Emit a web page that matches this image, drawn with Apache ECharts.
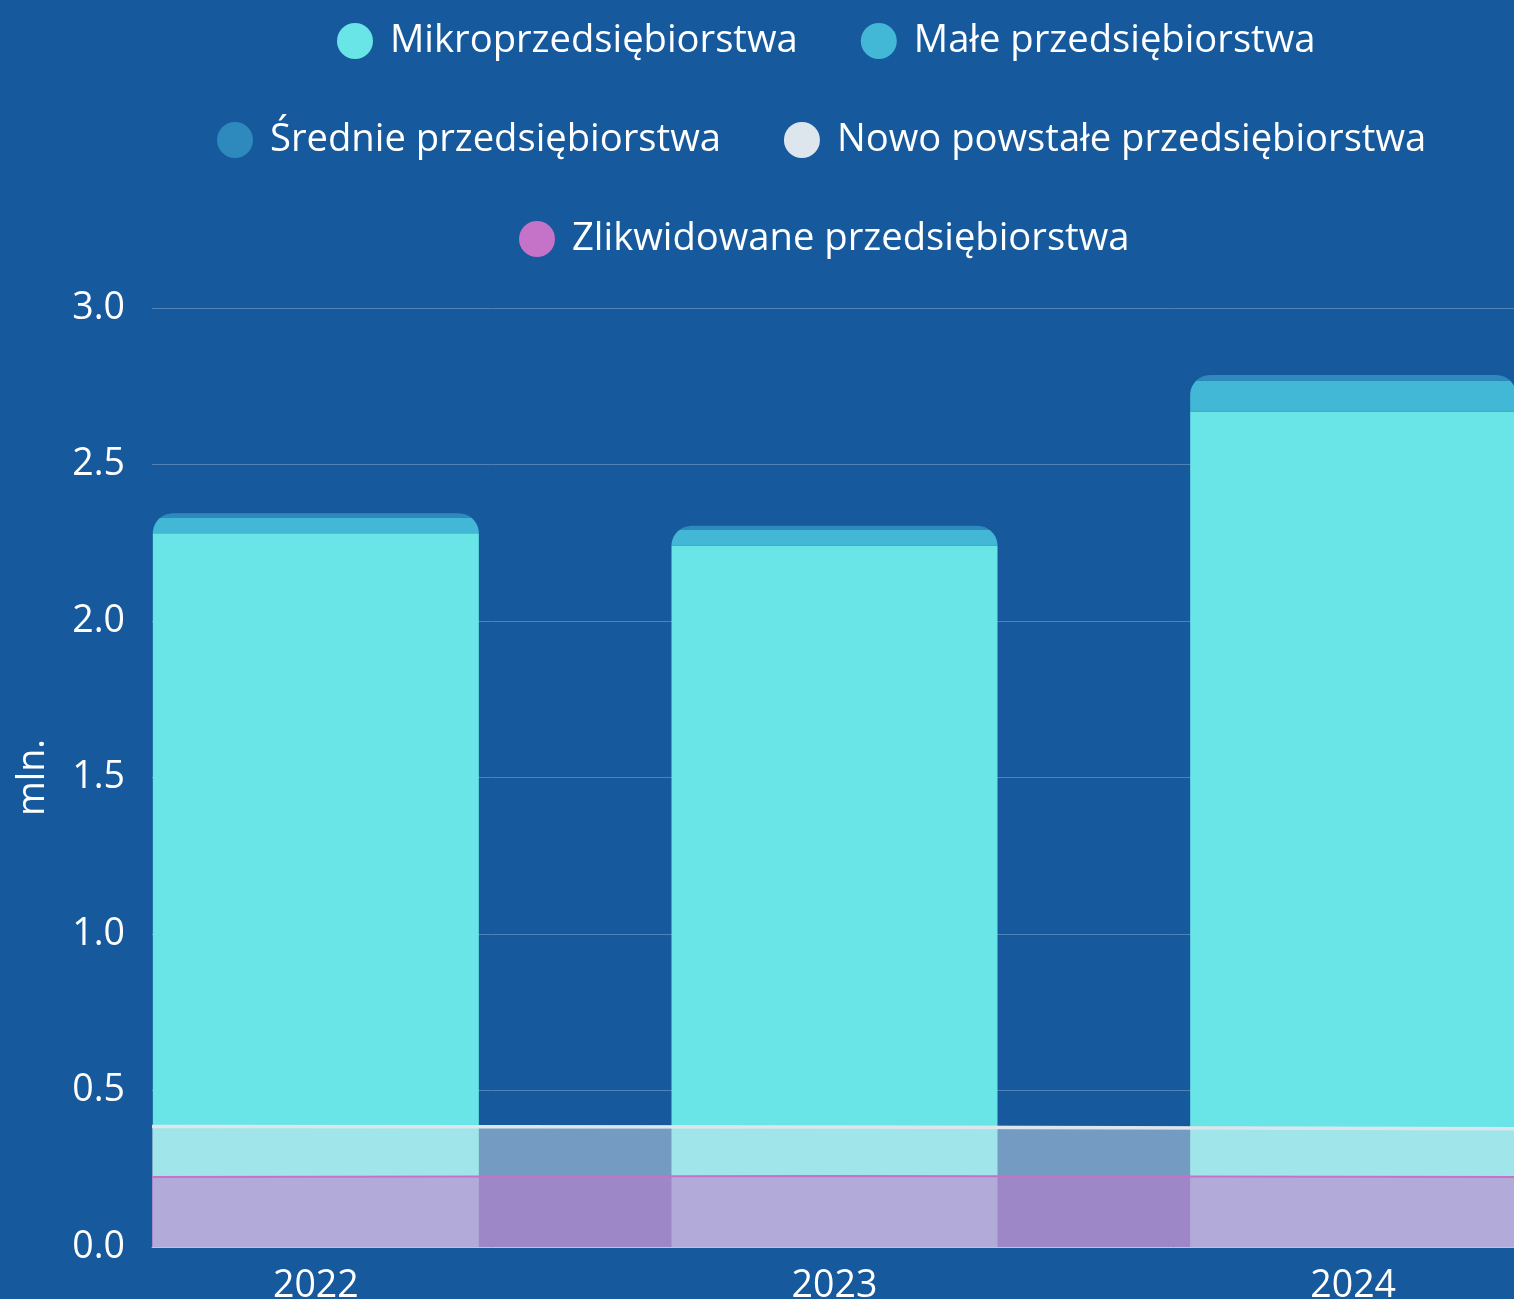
<!DOCTYPE html>
<html>
<head>
<meta charset="utf-8">
<script src="https://cdn.jsdelivr.net/npm/echarts@6/dist/echarts.min.js"></script>
<style>
html,body{margin:0;padding:0;background:#16599c;}
#chart{width:1514px;height:1299px;}
</style>
</head>
<body>
<div id="chart"></div>
<script>
// ---- data ----
const categories = ['2022', '2023', '2024'];
const mikro = [2.280, 2.241, 2.669];
const male = [0.049, 0.050, 0.099];
const srednie = [0.015, 0.013, 0.018];
const nowe = [0.385, 0.383, 0.378];
const zlikwidowane = [0.224, 0.227, 0.224];
const yTicks = [0, 0.5, 1.0, 1.5, 2.0, 2.5, 3.0];

const names = ['Mikroprzedsiębiorstwa', 'Małe przedsiębiorstwa', 'Średnie przedsiębiorstwa',
  'Nowo powstałe przedsiębiorstwa', 'Zlikwidowane przedsiębiorstwa'];
const colors = ['#69e5e7', '#42b7d6', '#2e89bd', '#dce6ec', '#c572c9'];

const FONT = 'Open Sans';
const FS = 37.5;
const LFS = 38.2;
const BAR_W = 326;
const RADIUS = 20;

const stacks = [mikro, male, srednie];
const totals = categories.map((c, i) => mikro[i] + male[i] + srednie[i]);

function stackData(k) {
  return categories.map((c, i) => {
    let lo = 0;
    for (let j = 0; j < k; j++) lo += stacks[j][i];
    return [i, lo, lo + stacks[k][i], totals[i]];
  });
}

function renderSeg(params, api) {
  const i = api.value(0);
  const pLo = api.coord([i, api.value(1)]);
  const pHi = api.coord([i, api.value(2)]);
  const pT = api.coord([i, api.value(3)]);
  const xc = pLo[0], yLo = pLo[1], yHi = pHi[1], yT = pT[1];
  const r = RADIUS;
  const inset = (y) => {
    if (y >= yT + r) return 0;
    const d = yT + r - y;
    return r - Math.sqrt(Math.max(0, r * r - d * d));
  };
  const ys = [yHi];
  const a = Math.max(yHi, yT), b = Math.min(yLo, yT + r);
  if (b > a) {
    const n = 14;
    for (let s = 0; s <= n; s++) ys.push(a + (b - a) * s / n);
  }
  ys.push(yLo);
  ys.sort((p, q) => p - q);
  const pts = [];
  ys.forEach(y => pts.push([xc - BAR_W / 2 + inset(y), y]));
  ys.slice().reverse().forEach(y => pts.push([xc + BAR_W / 2 - inset(y), y]));
  return {
    type: 'polygon',
    shape: { points: pts },
    style: { fill: colors[params.seriesIndex] }
  };
}

const chart = echarts.init(document.getElementById('chart'), null, { renderer: 'canvas' });

const legendCommon = {
  icon: 'circle',
  itemWidth: 60,
  itemHeight: 36,
  itemGap: 63,
  padding: 0,
  textStyle: { color: '#ffffff', fontSize: LFS, fontFamily: FONT },
  selectedMode: false
};

const option = {
  backgroundColor: '#16599c',
  animation: false,
  legend: [
    Object.assign({ left: 337, top: 22, data: [names[0], names[1]] }, legendCommon),
    Object.assign({ left: 217, top: 121, data: [names[2], names[3]] }, legendCommon),
    Object.assign({ left: 519, top: 220, data: [names[4]] }, legendCommon)
  ],
  grid: [
    { left: 152, right: 0, top: 308, bottom: 52, containLabel: false, outerBoundsMode: 'none' },
    { left: 56.5, right: -98.5, top: 308, bottom: 52, containLabel: false, outerBoundsMode: 'none' }
  ],
  xAxis: [
    {
      type: 'category', gridIndex: 0, data: categories, boundaryGap: false,
      axisLine: { show: true, lineStyle: { color: '#86dcec', width: 1 } },
      axisTick: { show: false }, axisLabel: { show: false }, splitLine: { show: false }
    },
    {
      type: 'category', gridIndex: 1, data: categories, boundaryGap: true,
      axisLine: { show: false }, axisTick: { show: false },
      axisLabel: { color: '#ffffff', fontSize: FS, fontFamily: FONT, margin: 20 },
      splitLine: { show: false }
    }
  ],
  yAxis: [
    {
      type: 'value', gridIndex: 0, min: 0, max: 3, interval: 0.5,
      name: 'mln.', nameLocation: 'middle', nameRotate: 90, nameGap: 100,
      nameTextStyle: { color: '#ffffff', fontSize: FS, fontFamily: FONT },
      axisLine: { show: false }, axisTick: { show: false },
      axisLabel: { color: '#ffffff', fontSize: FS, fontFamily: FONT, margin: 27,
        formatter: v => yTicks.indexOf(v) >= 0 ? v.toFixed(1) : '' },
      splitLine: { show: true, lineStyle: { color: '#4f82b8', width: 1 } }
    },
    {
      type: 'value', gridIndex: 1, min: 0, max: 3, interval: 0.5, show: false,
      splitLine: { show: false }
    }
  ],
  series: [
    ...[0, 1, 2].map(k => ({
      name: names[k],
      type: 'custom',
      xAxisIndex: 1, yAxisIndex: 1,
      itemStyle: { color: colors[k] },
      encode: { x: 0, y: [1, 2] },
      renderItem: renderSeg,
      data: stackData(k),
      z: 2
    })),
    {
      name: names[3], type: 'line', xAxisIndex: 0, yAxisIndex: 0,
      data: nowe, symbol: 'none', z: 3,
      itemStyle: { color: colors[3] },
      lineStyle: { color: colors[3], width: 3.5 },
      areaStyle: { color: colors[3], opacity: 0.48 }
    },
    {
      name: names[4], type: 'line', xAxisIndex: 0, yAxisIndex: 0,
      data: zlikwidowane, symbol: 'none', z: 4,
      itemStyle: { color: colors[4] },
      lineStyle: { color: colors[4], width: 2 },
      areaStyle: { color: colors[4], opacity: 0.5 }
    }
  ]
};

chart.setOption(option);
</script>
</body>
</html>
